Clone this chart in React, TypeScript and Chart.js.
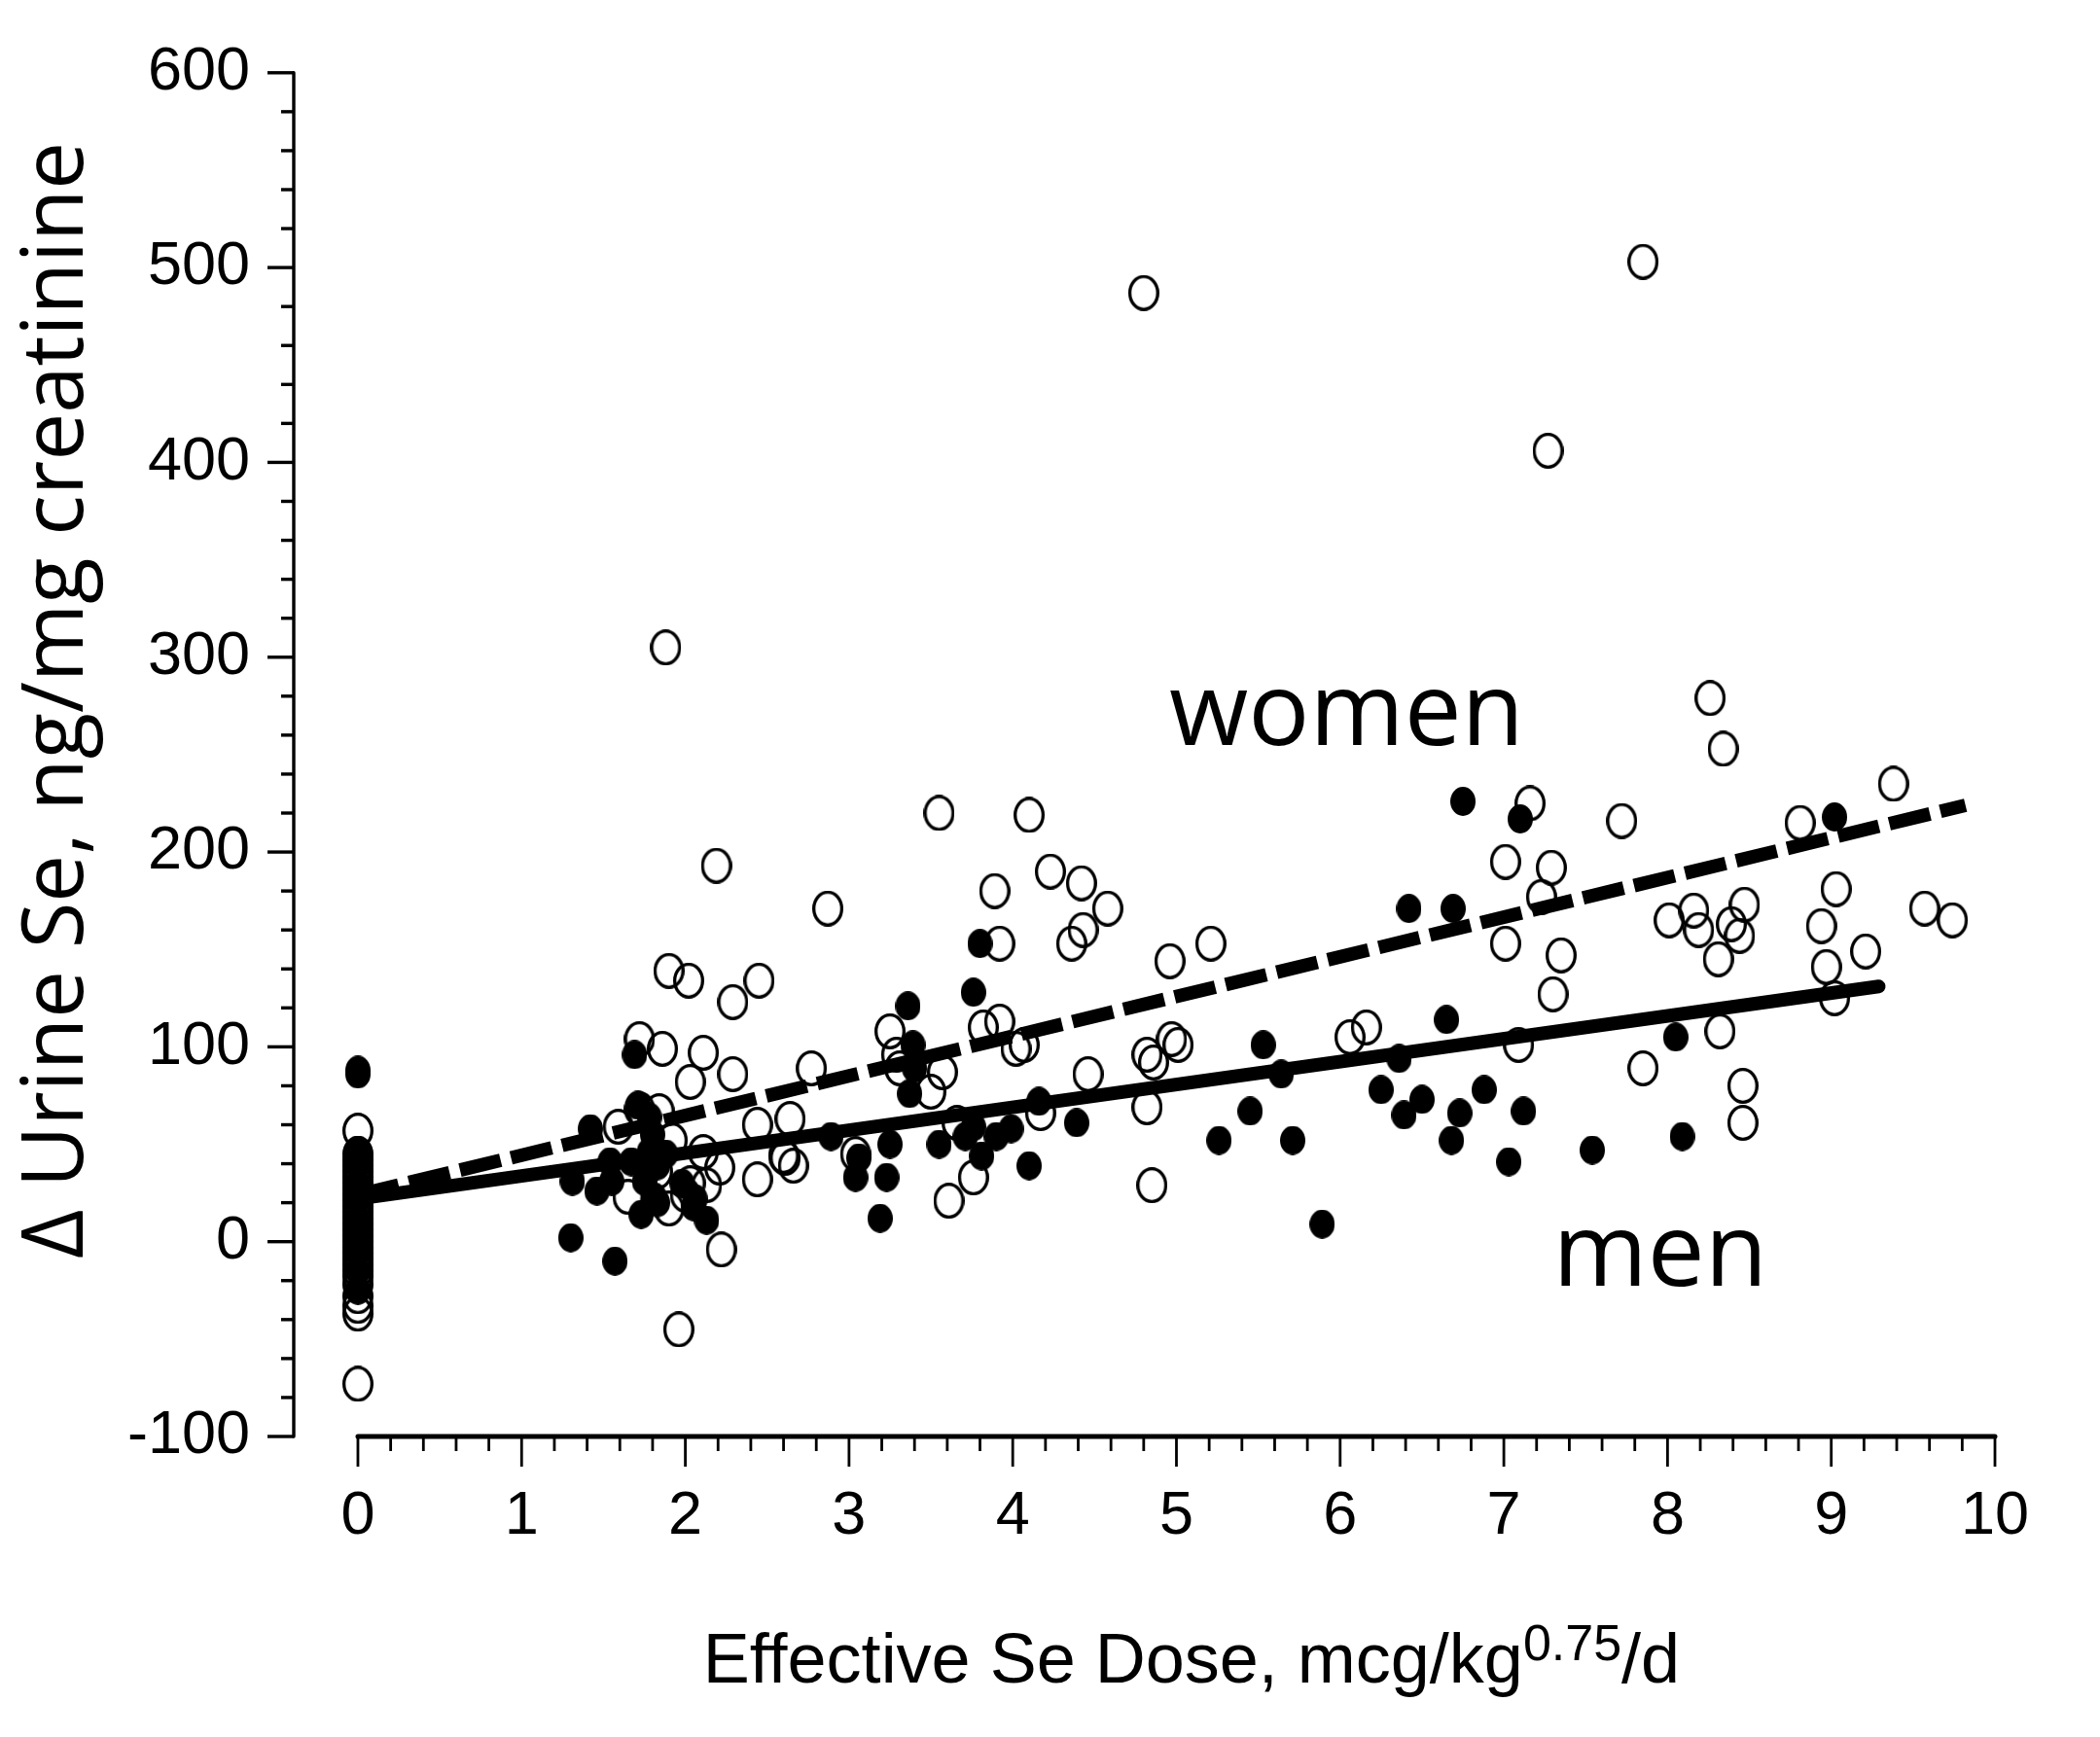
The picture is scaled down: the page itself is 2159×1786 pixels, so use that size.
import React, { useEffect, useRef } from "react";
import { Chart, registerables } from "chart.js";

Chart.register(...registerables);

// women (open markers): dose, urine Se change
const womenDose = [
  0, 0, 0, 0, 0, 0, 0, 0, 0, 0, 0, 0, 0, 0, 0, 0, 0, 0, 0, 0, 0, 0, 0, 0, 0, 0, 0, 0,
  4.8, 7.85, 7.27, 1.88, 8.26, 8.34, 9.38, 7.16, 7.72, 8.81, 3.55, 4.1, 2.19, 7.01, 7.29,
  4.23, 4.42, 3.89, 9.03, 7.23, 2.87, 4.58, 9.57, 9.74, 8.47, 8.01, 8.16, 8.39, 8.19, 8.44,
  4.43, 4.36, 3.92, 8.94, 5.21, 7.01, 7.35, 8.97, 9.21, 4.96, 8.31, 1.9, 2.02, 2.45, 2.29,
  7.3, 9.02, 3.92, 3.82, 3.25, 8.32, 6.16, 6.06, 4.02, 4.07, 4.97, 5.01, 7.09, 1.72, 1.86,
  2.11, 3.29, 4.82, 4.86, 3.31, 3.57, 2.77, 2.29, 7.85, 4.46, 2.03, 3.5, 8.46, 4.82, 4.17,
  3.66, 8.46, 2.64, 2.44, 1.59, 1.84, 1.72, 1.92, 2.11, 2.61, 2.66, 3.04, 2.21, 2.13, 2.44,
  2.03, 3.76, 3.61, 4.85, 1.65, 1.9, 2.0, 2.22, 1.96, 1.83, 2.6,
];
const womenUrine = [
  57, 45, 42, 39, 36, 33, 30, 27, 24, 21, 18, 15, 12, 9, 6, 3, 0, -3, -6, -9, -12, -15, -18, -22, -28, -33, -37, -73,
  487, 503, 406, 305, 279, 253, 235, 225, 216, 215, 220, 219, 193, 195, 192,
  190, 184, 180, 181, 177, 171, 171, 171, 165, 173, 165, 170, 163, 160, 157,
  160, 153, 153, 162, 153, 153, 147, 141, 149, 144, 145, 139, 134, 134, 123,
  127, 125, 113, 110, 108, 108, 110, 105, 99, 101, 104, 101, 101, 104, 99,
  97, 96, 96, 92, 89, 87, 89, 86, 89, 86, 82, 77, 80, 69, 66,
  61, 61, 63, 60, 59, 67, 68, 52, 46, 43, 39, 45, 38, 29, 32,
  30, 33, 21, 29, 23, 17, 24, -4, -45, 36, 44,
];

// men (filled markers)
const menDose = [
  0, 0, 0, 0, 0, 0, 0, 0, 0, 0, 0,
  6.75, 7.1, 9.02, 6.42, 6.69, 3.8, 3.76, 3.36, 3.39, 6.65, 8.05, 5.53, 1.69, 3.4, 6.36,
  5.64, 6.88, 6.25, 3.37, 6.5, 6.73, 5.45, 6.39, 7.12, 4.39, 3.71, 1.42, 2.89, 3.99, 3.9,
  3.55, 3.25, 3.76, 5.26, 5.71, 6.68, 8.09, 7.54, 7.03, 4.1, 3.06, 3.04, 3.23, 3.81, 1.54,
  1.67, 1.78, 1.83, 1.55, 1.31, 1.46, 1.75, 1.81, 1.73, 2.05, 1.83, 1.98, 2.06, 2.13, 3.19,
  5.89, 1.3, 1.57, 1.71, 1.78, 1.8, 1.88, 4.16,
];
const menUrine = [
  86, 88, 47, 40, 30, 22, 12, 5, -5, -15, -25,
  226, 217, 218, 171, 171, 153, 128, 121, 101, 114, 105, 101, 96, 89, 94,
  86, 78, 78, 76, 73, 66, 67, 65, 67, 61, 54, 58, 54, 58, 54,
  50, 50, 59, 52, 52, 52, 54, 47, 41, 39, 43, 33, 33, 44, 41,
  41, 46, 39, 31, 31, 26, 31, 23, 14, 18, 20, 30, 22, 11, 12,
  9, 2, -10, 70, 64, 55, 45, 72,
];

// fitted lines (end points)
const womenFitX = [0, 9.82];
const womenFitY = [24, 224];
const menFitX = [0, 9.29];
const menFitY = [22, 131];

const xLabels = [0, 1, 2, 3, 4, 5, 6, 7, 8, 9, 10];

const tickFont = "Liberation Sans, Arial, sans-serif";
const humanFont = "'Open Sans', 'Noto Sans', sans-serif";

const toPoints = (xs: number[], ys: number[]) => xs.map((x, i) => ({ x, y: ys[i] }));

function makeEllipse(w: number, h: number, filled: boolean, lw: number) {
  const c = document.createElement("canvas");
  c.width = w;
  c.height = h;
  const g = c.getContext("2d")!;
  g.beginPath();
  const inset = filled ? 0 : lw / 2;
  g.ellipse(w / 2, h / 2, w / 2 - inset, h / 2 - inset, 0, 0, Math.PI * 2);
  if (filled) {
    g.fillStyle = "#000";
    g.fill();
  } else {
    g.lineWidth = lw;
    g.strokeStyle = "#000";
    g.stroke();
  }
  return c;
}

const axesPlugin = {
  id: "axesAndText",
  afterDraw(chart: any) {
    const { ctx } = chart;
    const x = chart.scales.x;
    const y = chart.scales.y;
    const left = chart.chartArea.left;
    const bottom = y.getPixelForValue(-100);
    ctx.save();
    ctx.strokeStyle = "#000";
    ctx.fillStyle = "#000";

    // y axis
    ctx.lineWidth = 3.4;
    ctx.lineCap = "round";
    ctx.beginPath();
    ctx.moveTo(left, y.getPixelForValue(600));
    ctx.lineTo(left, bottom);
    ctx.stroke();
    ctx.lineCap = "butt";
    for (let v = -100; v <= 600; v += 20) {
      const py = y.getPixelForValue(v);
      const len = v % 100 === 0 ? 27 : 13;
      ctx.beginPath();
      ctx.moveTo(left - len, py);
      ctx.lineTo(left, py);
      ctx.stroke();
    }

    // x axis
    ctx.lineWidth = 5;
    ctx.lineCap = "round";
    ctx.beginPath();
    ctx.moveTo(x.getPixelForValue(0), bottom);
    ctx.lineTo(x.getPixelForValue(10), bottom);
    ctx.stroke();
    ctx.lineCap = "butt";
    ctx.lineWidth = 2.8;
    for (let i = 0; i <= 50; i++) {
      const px = x.getPixelForValue(i / 5);
      const len = i % 5 === 0 ? 31 : 15;
      ctx.beginPath();
      ctx.moveTo(px, bottom);
      ctx.lineTo(px, bottom + len);
      ctx.stroke();
    }

    // axis titles
    ctx.textBaseline = "alphabetic";
    const main = "Effective Se Dose, mcg/kg";
    const sup = "0.75";
    const tail = "/d";
    ctx.font = `72px ${tickFont}`;
    const wMain = ctx.measureText(main).width;
    const wTail = ctx.measureText(tail).width;
    ctx.font = `52px ${tickFont}`;
    const wSup = ctx.measureText(sup).width;
    let tx = 1225 - (wMain + wSup + wTail) / 2;
    const ty = 1730;
    ctx.font = `72px ${tickFont}`;
    ctx.textAlign = "left";
    ctx.fillText(main, tx, ty);
    tx += wMain;
    ctx.font = `52px ${tickFont}`;
    ctx.fillText(sup, tx, ty - 23);
    tx += wSup;
    ctx.font = `72px ${tickFont}`;
    ctx.fillText(tail, tx, ty);

    ctx.save();
    ctx.translate(85, 720);
    ctx.rotate(-Math.PI / 2);
    ctx.font = `87px ${humanFont}`;
    ctx.textAlign = "center";
    ctx.fillText("\u0394 Urine Se, ng/mg creatinine", 0, 0);
    ctx.restore();

    // group labels
    ctx.font = `105px ${humanFont}`;
    ctx.textAlign = "left";
    ctx.fillText("women", x.getPixelForValue(4.955), y.getPixelForValue(254.7));
    ctx.fillText("men", x.getPixelForValue(7.3), y.getPixelForValue(-22.4));
    ctx.restore();
  },
};

const SeDoseChart: React.FC = () => {
  const canvasRef = useRef<HTMLCanvasElement | null>(null);
  const chartRef = useRef<Chart | null>(null);

  useEffect(() => {
    document.body.style.margin = "0";
    document.body.style.overflow = "hidden";
    if (!canvasRef.current) return;
    if (chartRef.current) chartRef.current.destroy();

    const openMark = makeEllipse(32, 37, false, 3.3);
    const filledMark = makeEllipse(26, 30, true, 0);

    chartRef.current = new Chart(canvasRef.current, {
      type: "scatter",
      data: {
        datasets: [
          {
            label: "women fit",
            data: toPoints(womenFitX, womenFitY),
            showLine: true,
            borderColor: "#000",
            borderWidth: 14,
            borderDash: [43, 11],
            borderCapStyle: "butt",
            pointRadius: 0,
            order: 0,
          },
          {
            label: "men fit",
            data: toPoints(menFitX, menFitY),
            showLine: true,
            borderColor: "#000",
            borderWidth: 14,
            borderCapStyle: "round",
            pointRadius: 0,
            order: 1,
          },
          {
            label: "men",
            data: toPoints(menDose, menUrine),
            pointStyle: filledMark as any,
            order: 2,
          },
          {
            label: "women",
            data: toPoints(womenDose, womenUrine),
            pointStyle: openMark as any,
            order: 3,
          },
        ],
      },
      options: {
        animation: false,
        responsive: true,
        maintainAspectRatio: false,
        devicePixelRatio: 1,
        events: [],
        layout: { padding: { top: 70, right: 108, left: 0, bottom: 0 } },
        plugins: {
          legend: { display: false },
          tooltip: { enabled: false },
        },
        scales: {
          x: {
            type: "linear",
            min: -0.392,
            max: 10,
            grid: { display: false },
            border: { display: false },
            afterBuildTicks: (s: any) => {
              s.ticks = xLabels.map((v) => ({ value: v }));
            },
            afterFit: (s: any) => {
              s.height = 309;
            },
            ticks: {
              autoSkip: false,
              maxRotation: 0,
              padding: 37,
              color: "#000",
              font: { family: tickFont, size: 63 },
              callback: (v: any) => String(v),
            },
          },
          y: {
            min: -100,
            max: 600,
            grid: { display: false },
            border: { display: false },
            afterFit: (s: any) => {
              s.width = 302;
            },
            ticks: {
              stepSize: 100,
              padding: 37,
              color: "#000",
              font: { family: tickFont, size: 63 },
            },
          },
        },
      },
      plugins: [axesPlugin],
    });

    return () => {
      if (chartRef.current) {
        chartRef.current.destroy();
        chartRef.current = null;
      }
    };
  }, []);

  return (
    <div style={{ position: "relative", width: "2159px", height: "1786px", background: "#fff" }}>
      <canvas ref={canvasRef} />
    </div>
  );
};

export default function App() {
  return <SeDoseChart />;
}
